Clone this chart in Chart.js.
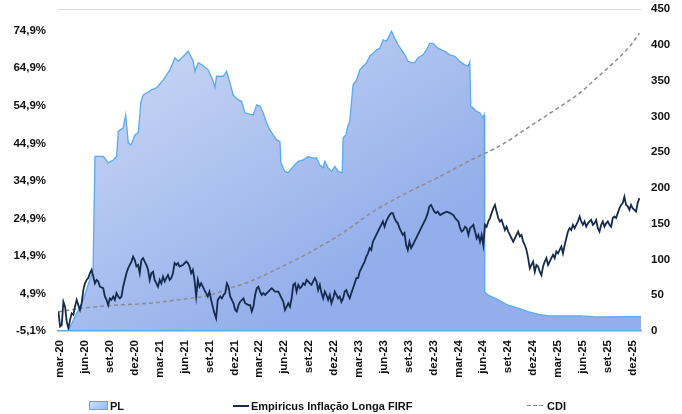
<!DOCTYPE html>
<html>
<head>
<meta charset="utf-8">
<script src="https://cdn.jsdelivr.net/npm/chart.js@4.4.1/dist/chart.umd.min.js"></script>
<style>
  html, body { margin: 0; padding: 0; background: #fff; }
  #wrap { position: relative; width: 682px; height: 414px; overflow: hidden; }
  #c { position: absolute; left: 0; top: 0; }
  .lg { position: absolute; top: 399px; height: 13px; display: flex; align-items: center;
        font: bold 11px "Liberation Sans", Arial, sans-serif; color: #111; white-space: nowrap; }
  .sw-area { width: 17px; height: 7px; border: 1px solid #5aaaf0; background: linear-gradient(135deg,#cfdcf6,#9db6ec); margin-right: 2px; }
  .sw-line { width: 16px; height: 2px; background: #142b4d; margin-right: 2px; }
  .sw-dash { width: 17px; height: 1.5px; background: repeating-linear-gradient(90deg,#8c8c8c 0 4px,transparent 4px 6px); margin-right: 3px; }
</style>
</head>
<body>
<div id="wrap">
  <canvas id="c" width="682" height="414"></canvas>
  <div class="lg" style="left:89px"><span class="sw-area"></span><span>PL</span></div>
  <div class="lg" style="left:233px"><span class="sw-line"></span><span>Empiricus Inflação Longa FIRF</span></div>
  <div class="lg" style="left:527px"><span class="sw-dash"></span><span>CDI</span></div>
</div>
<script>
// ---- DATA (x = months since Mar-2020) ----
const xTickMonths = [0,3,6,9,12,15,18,21,24,27,30,33,36,39,42,45,48,51,54,57,60,63,66,69];
const xTickLabels = ['mar-20','jun-20','set-20','dez-20','mar-21','jun-21','set-21','dez-21','mar-22','jun-22','set-22','dez-22','mar-23','jun-23','set-23','dez-23','mar-24','jun-24','set-24','dez-24','mar-25','jun-25','set-25','dez-25'];
const leftTickValues = [-5.1,4.9,14.9,24.9,34.9,44.9,54.9,64.9,74.9];
const leftTickLabels = ['-5,1%','4,9%','14,9%','24,9%','34,9%','44,9%','54,9%','64,9%','74,9%'];
const rightTickValues = [0,50,100,150,200,250,300,350,400,450];
const rightTickLabels = ['0','50','100','150','200','250','300','350','400','450'];

// PL (right axis)
const plPoints = [
[-0.25,0],[0.96,0],[2.76,43],[3.97,85],[4.21,244],[5.21,244],[5.81,235],[6.41,239],[6.82,244],[7.01,279],[7.61,284],[7.90,302],[8.22,263],[8.54,260],[9.02,274],[9.42,277],[9.75,321],[10.02,330],[10.62,334],[11.03,337],[11.64,340],[12.43,351],[13.24,365],[13.84,382],[14.24,377],[15.04,386],[15.44,391],[16.04,377],[16.25,363],[16.65,375],[17.06,372],[17.85,365],[18.45,349],[18.66,340],[18.86,356],[19.66,356],[20.07,363],[20.46,347],[20.86,330],[21.46,323],[21.87,321],[22.27,305],[22.87,303],[23.27,302],[23.68,316],[24.08,314],[24.47,305],[24.88,291],[25.28,281],[25.68,274],[26.09,267],[26.49,265],[26.61,235],[27.09,223],[27.48,221],[28.09,230],[28.69,237],[29.29,239],[29.89,244],[30.30,242],[30.90,242],[31.30,232],[31.70,228],[31.90,237],[32.30,228],[32.71,223],[33.11,230],[33.51,223],[33.99,221],[34.11,270],[34.43,274],[34.71,288],[34.91,293],[35.12,321],[35.31,344],[35.72,351],[36.12,365],[36.52,370],[36.93,375],[37.32,384],[37.72,388],[38.13,393],[38.53,395],[38.92,407],[39.33,405],[39.94,419],[40.33,409],[40.73,400],[41.14,393],[41.54,386],[41.94,377],[42.34,375],[42.74,375],[43.14,382],[43.74,386],[44.15,393],[44.55,402],[44.95,402],[45.55,395],[46.36,391],[46.96,386],[47.56,384],[48.16,377],[48.76,372],[49.16,370],[49.37,376],[49.49,314],[49.76,312],[50.17,307],[50.57,305],[50.97,298],[51.09,302],[51.17,55],[51.57,50],[52.38,46],[53.18,41],[53.98,36],[55.18,32],[56.39,27],[57.79,23],[59.00,21],[60.60,21],[62.61,21],[64.21,20],[66.22,19.6],[68.24,20],[70,20]
];

// Empiricus Inflação Longa FIRF (left axis, %)
const fundPoints = [
[-0.2,0.1],[0,-3.9],[0.2,-3.5],[0.4,2.7],[0.6,1.4],[0.8,-2.6],[1,-4.4],[1.2,-2.2],[1.4,-0.4],[1.6,-0.8],[1.8,1.4],[2,3.2],[2.2,1.8],[2.4,0.5],[2.6,2.3],[2.8,5.8],[3,7.6],[3.2,8.5],[3.4,9],[3.6,10.3],[3.8,11.2],[4,9.4],[4.2,7.6],[4.4,8.5],[4.6,8.1],[4.8,6.7],[5.2,6.3],[5.4,4.1],[5.6,3.2],[5.8,1.8],[6,3.6],[6.2,3.2],[6.4,4.1],[6.6,3.2],[6.8,5],[7,4.1],[7.2,3.6],[7.4,4.1],[7.6,6.7],[7.8,8.5],[8,10.3],[8.2,11.6],[8.4,12.5],[8.6,13.4],[8.8,14.7],[9,13.8],[9.2,12.1],[9.4,12.5],[9.6,10.3],[9.8,13.8],[10,14.3],[10.2,13.4],[10.4,12.5],[10.6,11.2],[10.8,8.5],[11,10.3],[11.2,10.7],[11.4,8.5],[11.6,7.6],[11.8,6.7],[12,8.5],[12.2,7.6],[12.4,9.4],[12.6,8.1],[12.8,9],[13,9.8],[13.2,8.5],[13.4,9],[13.6,10.3],[13.8,13],[14,12.5],[14.2,13],[14.4,12.1],[14.8,12.5],[15.2,13.4],[15.4,13],[15.6,12.1],[15.8,10.3],[16,11.2],[16.2,8.5],[16.4,4.1],[16.6,8.5],[16.8,6.7],[17,7.6],[17.2,6.7],[17.4,5.8],[17.6,5],[17.8,4.1],[18,5.4],[18.2,3.2],[18.4,1.4],[18.6,-0.4],[18.8,-1.7],[19,3.2],[19.3,4.1],[19.5,3.6],[19.7,4.5],[19.9,5],[20.1,7.6],[20.3,6.7],[20.5,4.1],[20.7,3.2],[20.9,2.3],[21.1,0.5],[21.3,0.1],[21.5,1.8],[21.7,2.7],[22.1,3.6],[22.3,2.3],[22.7,1.8],[22.9,1.8],[23.1,0.1],[23.3,1.4],[23.5,4.5],[23.7,6.3],[23.9,6.7],[24.1,5.4],[24.3,4.5],[24.5,5],[24.7,4.5],[25.1,5.4],[25.5,6.3],[25.9,5.4],[26.3,5.4],[26.5,4.5],[26.7,3.6],[26.9,2.7],[27.1,0.5],[27.3,1.4],[27.5,2.3],[27.7,1.4],[27.9,3.6],[28.1,7.2],[28.3,7.6],[28.5,5.4],[28.7,7.2],[28.9,6.3],[29.1,6.7],[29.3,7.6],[29.5,7.2],[29.7,8.5],[29.9,8.1],[30.1,7.6],[30.3,7.2],[30.5,8.1],[30.7,9],[30.9,8.1],[31.1,5.8],[31.3,7.2],[31.5,5],[31.7,3.6],[31.9,5.4],[32.1,4.5],[32.3,3.2],[32.5,4.5],[32.7,2.3],[32.9,3.6],[33.1,5.4],[33.3,4.5],[33.5,3.6],[33.7,4.1],[33.9,2.7],[34.1,3.6],[34.3,5.4],[34.5,5.8],[34.7,4.5],[34.9,3.6],[35.1,5],[35.3,6.3],[35.5,7.6],[35.7,9],[35.9,9],[36.1,10.7],[36.3,11.6],[36.5,12.5],[36.7,13.4],[36.9,14.7],[37.1,15.6],[37.3,17],[37.5,16.5],[37.7,18.7],[37.9,19.6],[38.1,20.5],[38.3,21.4],[38.5,22.3],[38.7,23.2],[38.9,24.1],[39.1,22.7],[39.3,24.1],[39.5,25],[39.7,25.8],[39.9,26.3],[40.1,26.3],[40.3,25],[40.5,24.1],[40.7,23.6],[40.9,22.3],[41.1,21.4],[41.3,20.5],[41.5,21],[41.7,17.8],[41.9,16.5],[42.1,18.7],[42.3,17],[42.5,17.8],[42.7,18.7],[42.9,19.6],[43.1,20.5],[43.3,21.4],[43.5,22.3],[43.7,23.2],[43.9,24.1],[44.1,25],[44.3,26.3],[44.5,28.1],[44.7,28.5],[44.9,27.6],[45.1,26.7],[45.3,26.3],[45.5,26.7],[45.8,25.8],[46.2,26.3],[46.6,26.7],[47,26.3],[47.4,25.8],[47.6,25],[47.8,24.5],[48,24.1],[48.2,22.3],[48.4,21.4],[48.6,21.8],[48.8,22.7],[49,22.3],[49.2,20.5],[49.4,22.3],[49.6,22.7],[49.8,23.2],[50,21.4],[50.2,19.6],[50.4,20.5],[50.6,18.7],[50.8,20.5],[51,17.8],[51.2,23.2],[51.4,22.7],[51.6,24.1],[51.8,25],[52,26.3],[52.2,27.6],[52.4,28.5],[52.6,26.7],[52.8,25],[53,24.1],[53.2,24.5],[53.4,23.2],[53.6,21.8],[53.8,22.7],[54,21.4],[54.2,20.5],[54.4,19.6],[54.6,18.7],[54.8,19.6],[55,20.5],[55.2,21.4],[55.4,20.1],[55.6,20.5],[55.8,18.7],[56,17.8],[56.2,16.5],[56.4,14.3],[56.6,11.6],[56.8,12.5],[57,13.4],[57.2,10.7],[57.4,12.5],[57.6,12.1],[57.8,10.7],[58,9.8],[58.2,12.1],[58.4,13.4],[58.6,14.3],[58.8,12.5],[59,13.4],[59.2,14.3],[59.4,15.2],[59.6,14.3],[59.8,16.1],[60,15.6],[60.2,16.5],[60.4,17.4],[60.6,15.6],[60.8,17.8],[61,19.6],[61.2,21.4],[61.4,22.3],[61.6,21.8],[61.8,23.2],[62,22.3],[62.2,23.2],[62.4,24.1],[62.6,25.4],[62.8,24.1],[63,23.2],[63.2,24.1],[63.4,22.7],[63.6,23.6],[63.8,24.1],[64,24.5],[64.2,23.2],[64.4,23.6],[64.6,24.5],[64.8,22.3],[65,21.4],[65.2,23.2],[65.4,24.1],[65.6,22.7],[65.8,23.6],[66,24.1],[66.2,23.2],[66.4,22.7],[66.6,25],[66.8,25.4],[67,25],[67.2,26.3],[67.4,27.6],[67.6,28.5],[67.8,29],[68,30.7],[68.2,28.5],[68.4,28.1],[68.6,27.2],[68.8,28.5],[69,27.6],[69.2,27.2],[69.4,26.7],[69.6,29],[69.8,30.3]
];

// CDI accumulated (left axis, %)
const cdiPoints = [
[-0.2,0.0],[2.8,1.0],[6.8,1.8],[10.8,2.3],[14.8,3.4],[18.1,4.5],[20.5,6.3],[22.9,8.1],[26.3,11.6],[30.3,16.1],[34.3,21.4],[37.7,26.7],[41.7,31.6],[45.8,36.1],[49.2,40.1],[53.2,44.5],[57.2,50.3],[60.6,55.2],[62.6,58.3],[64.6,62.2],[66.6,66.2],[68.6,70.6],[69.8,74.2]
];

const toXY = arr => arr.map(p => ({ x: p[0], y: p[1] }));
const tickFont = { family: "'Liberation Sans', Arial, sans-serif", size: 11.5, weight: 'bold' };
const textColor = '#111';
const fitVertical = w => s => { s.width = w; s.paddingTop = 0; s.paddingBottom = 0; };

new Chart(document.getElementById('c'), {
  type: 'line',
  data: {
    datasets: [
      {
        label: 'Empiricus Inflação Longa FIRF',
        data: toXY(fundPoints),
        yAxisID: 'y',
        borderColor: '#142b4d',
        borderWidth: 1.8,
        pointRadius: 0,
        tension: 0,
        fill: false,
        order: 1
      },
      {
        label: 'CDI',
        data: toXY(cdiPoints),
        yAxisID: 'y',
        borderColor: '#8c8c8c',
        borderWidth: 1.5,
        borderDash: [4, 3],
        pointRadius: 0,
        cubicInterpolationMode: 'monotone',
        fill: false,
        order: 2
      },
      {
        label: 'PL',
        data: toXY(plPoints),
        yAxisID: 'y2',
        borderColor: '#5aaaf0',
        borderWidth: 1.3,
        pointRadius: 0,
        tension: 0,
        fill: 'origin',
        backgroundColor: (c) => {
          const a = c.chart.chartArea;
          if (!a) return '#b8caf2';
          const g = c.chart.ctx.createLinearGradient(a.left, a.top, a.left + a.width * 0.35, a.bottom);
          g.addColorStop(0, '#d4dff7');
          g.addColorStop(1, '#93aeea');
          return g;
        },
        order: 3
      }
    ]
  },
  options: {
    responsive: false,
    animation: false,
    events: [],
    layout: { padding: { top: 9, left: 0, right: 0, bottom: 0 } },
    plugins: { legend: { display: false }, tooltip: { enabled: false } },
    scales: {
      x: {
        type: 'linear',
        min: -0.25,
        max: 70,
        afterBuildTicks: s => { s.ticks = xTickMonths.map(v => ({ value: v })); },
        afterFit: s => { s.height = 83; },
        ticks: {
          autoSkip: false, minRotation: 90, maxRotation: 90, padding: 9,
          font: tickFont, color: textColor,
          callback: (v, i) => xTickLabels[i]
        },
        grid: { display: false, drawTicks: false },
        border: { display: true, color: '#5aaaf0', width: 1.5, z: 1 }
      },
      y: {
        position: 'left',
        min: -5.1,
        max: 80.7,
        afterBuildTicks: s => { s.ticks = leftTickValues.map(v => ({ value: v })); },
        afterFit: fitVertical(58),
        ticks: { padding: 12, font: tickFont, color: textColor, callback: (v, i) => leftTickLabels[i] },
        grid: { display: false, drawTicks: false },
        border: { display: false }
      },
      y2: {
        position: 'right',
        min: 0,
        max: 450,
        afterBuildTicks: s => { s.ticks = rightTickValues.map(v => ({ value: v })); },
        afterFit: fitVertical(41),
        ticks: { padding: 10, font: tickFont, color: textColor, callback: (v, i) => rightTickLabels[i] },
        grid: {
          drawTicks: false,
          lineWidth: 1,
          color: c => (c.tick && c.tick.value === 450) ? '#d9d9d9' : 'rgba(0,0,0,0)'
        },
        border: { display: false }
      }
    }
  }
});
</script>
</body>
</html>
